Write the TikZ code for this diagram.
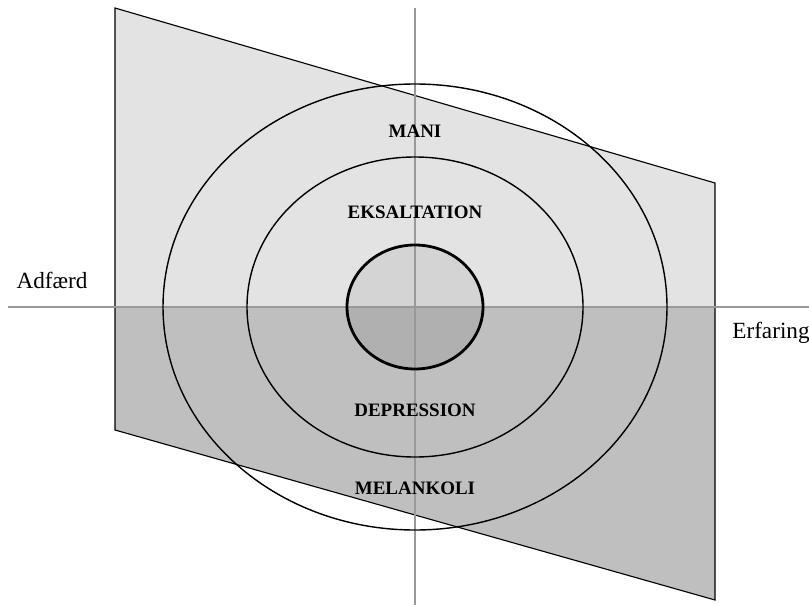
\documentclass[tikz,border=0pt]{standalone}
\usepackage{fontspec}
\setmainfont{Liberation Serif}
\usetikzlibrary{positioning}

\begin{document}
\begin{tikzpicture}[
    x=0.025cm, y=-0.025cm,
    axis/.style={draw=black!40},
    ring/.style={draw, line width=1pt},
    mood/.style={font=\fontsize{13.5}{15}\selectfont\bfseries},
    side/.style={font=\fontsize{16.5}{18}\selectfont}
  ]
    \useasboundingbox (0,0) rectangle (809,605);
    % corners of the plane
    \coordinate (tl) at (115,8);
    \coordinate (tr) at (715,183);
    \coordinate (br) at (715,600);
    \coordinate (bl) at (115,430);
    \coordinate (c) at (415,307);
    % shaded halves
    \fill[black!11] (tl) -- (tr) -- (715,307) -- (115,307) -- cycle;
    \fill[black!25] (115,307) -- (715,307) -- (br) -- (bl) -- cycle;
    \begin{scope}
      \clip (340,240) rectangle (490,307);
      \fill[black!17] (c) ellipse [x radius=68, y radius=62];
    \end{scope}
    \begin{scope}
      \clip (340,307) rectangle (490,375);
      \fill[black!31] (c) ellipse [x radius=68, y radius=62];
    \end{scope}
    \draw[line width=0.8pt] (tl) -- (tr) -- (br) -- (bl) -- cycle;
    % axes
    \coordinate (xl) at (8,307);
    \coordinate (xr) at (809,307);
    \coordinate (yt) at (415,8);
    \coordinate (yb) at (415,605);
    \draw[axis, line width=2pt] (xl) -- (xr);
    \draw[axis, line width=1pt] (yt) -- (yb);
    % rings
    \draw[ring] (c) ellipse [x radius=252, y radius=223];
    \draw[ring] (c) ellipse [x radius=168, y radius=150];
    \draw[ring, line width=2pt] (c) ellipse [x radius=68, y radius=62];
    % labels
    \node[mood] (mani) at (415,131) {MANI};
    \node[mood] (eksaltation) at (415,212) {EKSALTATION};
    \node[mood] (depression) at (415,410) {DEPRESSION};
    \node[mood] (melankoli) at (415,488) {MELANKOLI};
    \node[side] (adfaerd) at (52,280) {Adfærd};
    \node[side] (erfaring) at (771,333) {Erfaring};
\end{tikzpicture}
\end{document}
